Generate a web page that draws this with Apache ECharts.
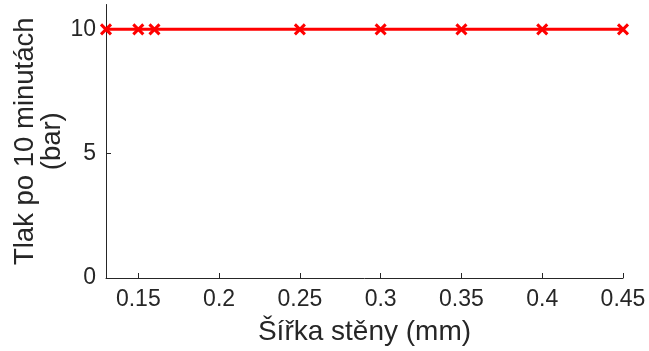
<!DOCTYPE html>
<html>
<head>
<meta charset="utf-8">
<script src="https://cdn.jsdelivr.net/npm/echarts@6/dist/echarts.min.js"></script>
<style>
html,body{margin:0;padding:0;background:#fff;}
#c{width:649px;height:351px;}
</style>
</head>
<body>
<div id="c"></div>
<script>
const wallWidth = [0.13, 0.15, 0.16, 0.25, 0.3, 0.35, 0.4, 0.45];
const pressure = [10, 10, 10, 10, 10, 10, 10, 10];
const xTicks = [0.15, 0.2, 0.25, 0.3, 0.35, 0.4, 0.45];
const yTicks = [0, 5, 10];
const xName = 'Šířka stěny (mm)';
const yName = 'Tlak po 10 minutách\n(bar)';

const axisColor = '#262626';
const font = 'Liberation Sans, Arial, sans-serif';
const chart = echarts.init(document.getElementById('c'), null, {renderer: 'canvas'});
chart.setOption({
  animation: false,
  backgroundColor: '#fff',
  grid: {left: 106, right: 26, top: 4.5, bottom: 73, containLabel: false, outerBoundsMode: 'none'},
  xAxis: {
    type: 'value', min: 0.13, max: 0.45,
    name: xName, nameLocation: 'middle', nameGap: 40, nameMoveOverlap: false,
    nameTextStyle: {fontFamily: font, fontSize: 28, color: axisColor},
    axisLine: {show: true, onZero: false, lineStyle: {color: axisColor, width: 1}},
    axisTick: {show: true, inside: true, length: 5, customValues: xTicks, lineStyle: {color: axisColor}},
    axisLabel: {customValues: xTicks, fontFamily: font, fontSize: 23, color: axisColor, margin: 10,
      formatter: v => String(+v.toFixed(2))},
    splitLine: {show: false}
  },
  yAxis: {
    type: 'value', min: 0, max: 11,
    name: yName, nameLocation: 'middle', nameGap: 40, nameRotate: 90, nameMoveOverlap: false,
    nameTextStyle: {fontFamily: font, fontSize: 27.5, color: axisColor, lineHeight: 27, align: 'center'},
    axisLine: {show: true, onZero: false, lineStyle: {color: axisColor, width: 1}},
    axisTick: {show: true, inside: true, length: 5, customValues: yTicks, lineStyle: {color: axisColor}},
    axisLabel: {customValues: yTicks, fontFamily: font, fontSize: 23, color: axisColor, margin: 10},
    splitLine: {show: false}
  },
  series: [{
    type: 'line',
    data: wallWidth.map((x, i) => [x, pressure[i]]),
    lineStyle: {color: '#ff0000', width: 3},
    symbol: 'path://M0,0L10,10M10,0L0,10',
    symbolSize: 10,
    showAllSymbol: true,
    itemStyle: {color: '#ff0000', borderColor: '#ff0000', borderWidth: 3},
    clip: false
  }]
});
</script>
</body>
</html>
